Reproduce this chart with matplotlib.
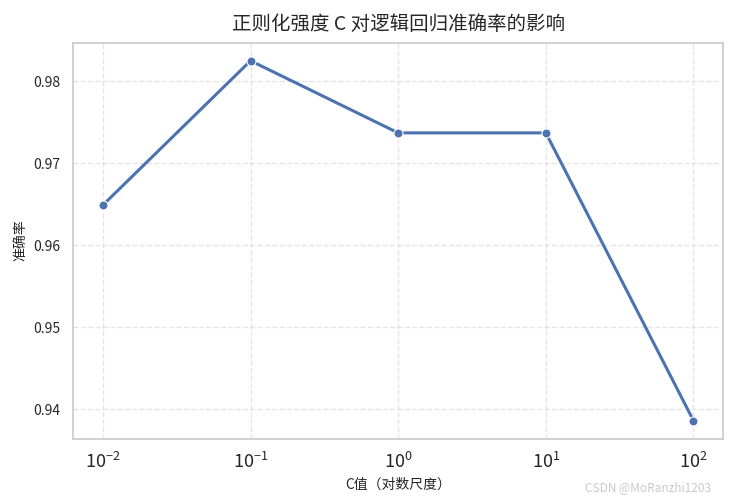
import numpy as np
import matplotlib
matplotlib.use('Agg')
import matplotlib.pyplot as plt
import seaborn as sns

# 正则化强度 C 与准确率
c_values = [0.01, 0.1, 1, 10, 100]
accuracy = [0.9649, 0.9825, 0.9737, 0.9737, 0.9386]

sns.set_theme(style='whitegrid')
plt.rcParams['font.family'] = ['Noto Sans CJK SC', 'DejaVu Sans']
plt.rcParams['axes.unicode_minus'] = False

fig, ax = plt.subplots(figsize=(7.34, 5.03), dpi=100)
fig.subplots_adjust(left=0.1, right=0.985, top=0.915, bottom=0.128)

ax.plot(c_values, accuracy, '-o', color='#4c72b0', linewidth=2.2, markersize=6.5,
        markeredgecolor='white', markeredgewidth=0.8)
ax.set_xscale('log')
ax.set_title('正则化强度 C 对逻辑回归准确率的影响', fontsize=14, pad=9)
ax.set_xlabel('C值（对数尺度）', fontsize=10)
ax.set_ylabel('准确率', fontsize=10)
ax.tick_params(axis='y', labelsize=10)
ax.tick_params(axis='x', labelsize=13)
ax.set_yticks([0.94, 0.95, 0.96, 0.97, 0.98])
ax.grid(True, linestyle='--', alpha=0.5)

fig.text(0.968, 0.018, 'CSDN @MoRanzhi1203', ha='right', va='bottom',
         fontsize=8.5, color='#c8c8c8')

plt.savefig('out.png')
